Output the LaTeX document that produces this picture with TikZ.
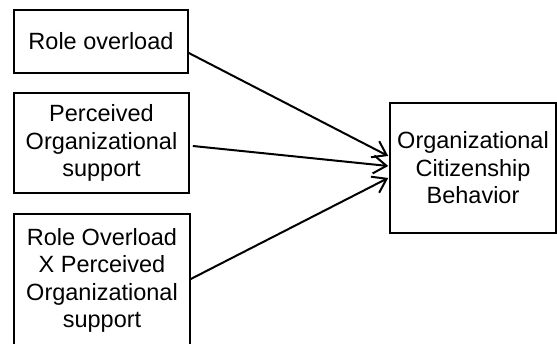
\documentclass[tikz,border=0pt]{standalone}
\usepackage{fontspec}
\setmainfont{Liberation Sans}
\usetikzlibrary{arrows.meta,calc}
\begin{document}
\begin{tikzpicture}[x=1pt,y=1pt,
  box/.style={draw=black,line width=1.6pt,align=center,inner sep=0pt,
    font=\fontsize{23.5}{27.5}\selectfont},
  conn/.style={line width=2pt,-{Straight Barb[length=13pt,width=18pt,line width=2pt]}}]
\clip (0,0) rectangle (557,344);
\useasboundingbox (0,0) rectangle (557,344);
\node[box,minimum width=174pt,minimum height=63pt] (b1) at (101,302.5) {Role overload};
\node[box,minimum width=175pt,minimum height=100pt] (b2) at (101.5,201) {Perceived\\Organizational\\support};
\node[box,minimum width=176pt,minimum height=133pt] (b3) at (102,63.5) {Role Overload\\X Perceived\\Organizational\\support};
\node[box,minimum width=166pt,minimum height=130pt] (b4) at (473,176) {Organizational\\Citizenship\\Behavior};
\coordinate (s1) at ($(b1.east)+(0,-11.5)$);
\coordinate (s2) at ($(b2.east)+(3,-3)$);
\coordinate (s3) at ($(b3.east)+(0,1.5)$);
\coordinate (e1) at ($(b4.west)+(-1,12)$);
\coordinate (e2) at ($(b4.west)+(-1,2)$);
\coordinate (e3) at ($(b4.west)+(-1,-10)$);
\draw[conn] (s1) -- (e1);
\draw[conn] (s2) -- (e2);
\draw[conn] (s3) -- (e3);
\end{tikzpicture}
\end{document}
